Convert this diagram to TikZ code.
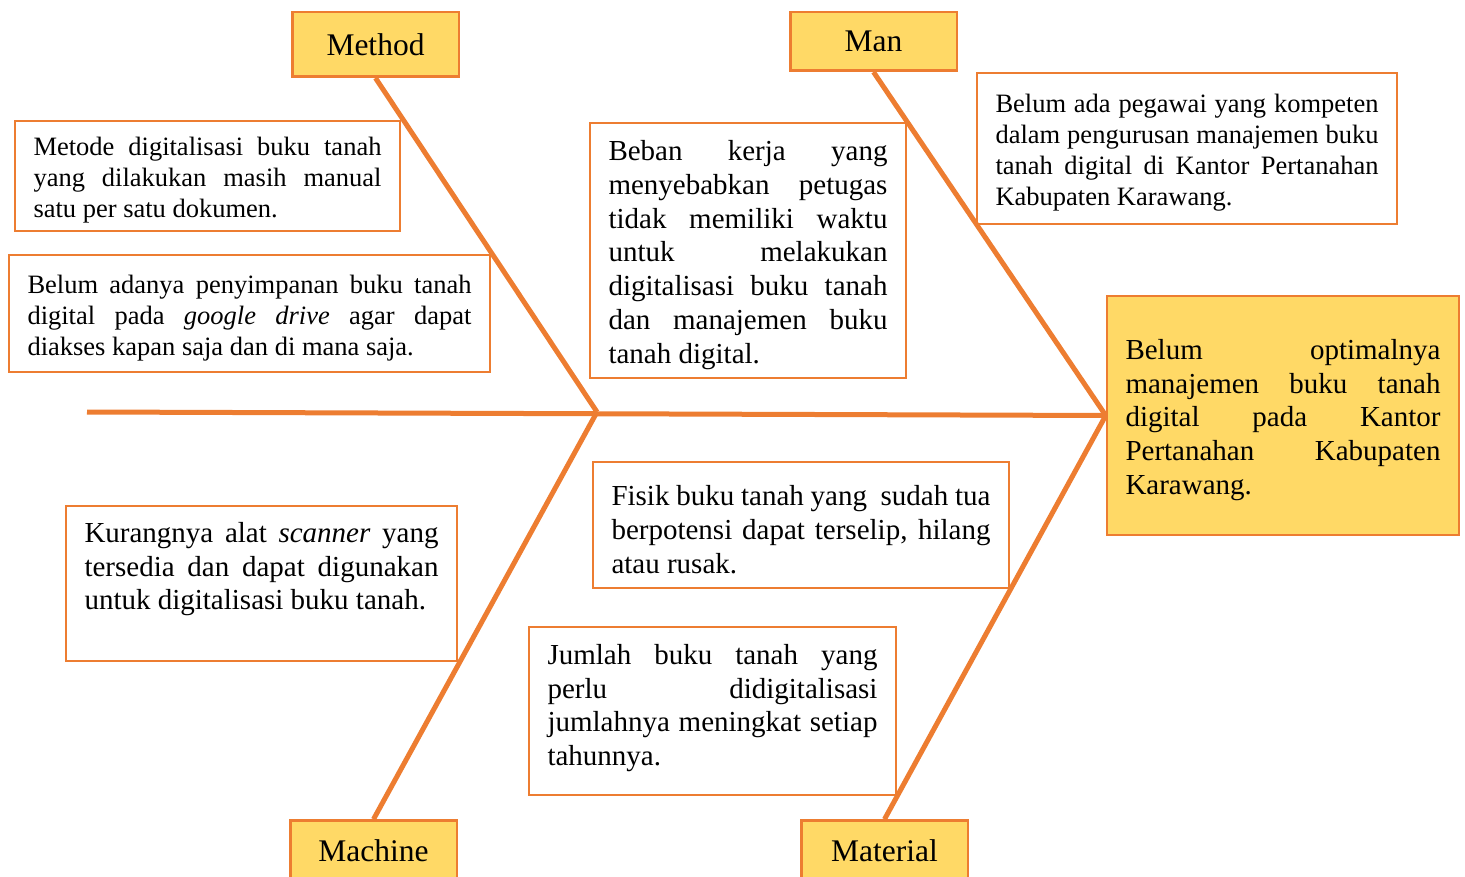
\documentclass[tikz,border=0pt]{standalone}
\usepackage{fontspec}
\setmainfont{Liberation Serif}
\usepackage{xcolor}
\usetikzlibrary{positioning}
\definecolor{boneorange}{HTML}{ED7D31}
\definecolor{labelgold}{HTML}{FFD966}
\newcommand{\notefont}{\fontsize{26.5}{31}\selectfont}
\newcommand{\bignotefont}{\fontsize{29}{33.7}\selectfont}
\newcommand{\dropnote}{\endgraf\vspace*{-9pt}}
\tolerance=10000
\hyphenpenalty=10000

\begin{document}
\begin{tikzpicture}[
  x=1pt, y=-1pt,
  causebox/.style={draw=boneorange, line width=2.5pt, fill=white, align=justify,
                   inner xsep=18.5pt, inner ysep=0pt,
                   execute at end node=\dropnote},
  category/.style={draw=boneorange, line width=2.5pt, fill=labelgold,
                   minimum width=166.5pt, font=\fontsize{31.5}{36}\selectfont},
  bone/.style={draw=boneorange, line width=5pt}
]
  \clip (0,0) rectangle (1465,877);

  \node[category, minimum height=64.5pt] (method) at (375.5,44.5) {Method};
  \node[category, minimum height=58.5pt] (man) at (873.5,41.5) {Man};
  \node[category, minimum height=61pt] (machine) at (373.5,851) {Machine};
  \node[category, minimum height=61pt] (material) at (884.5,851) {Material};

  \node[causebox, fill=labelgold, text width=315pt, minimum height=239pt,
        font=\bignotefont] (effect) at (1283,415.5)
    {Belum optimalnya\linebreak manajemen buku tanah\linebreak digital pada Kantor\linebreak
     Pertanahan Kabupaten\linebreak Karawang.};

  \node[causebox, text width=348pt, minimum height=110pt, font=\notefont]
    (manualMethod) at (207.5,176)
    {Metode digitalisasi buku tanah\linebreak yang dilakukan masih manual\linebreak
     satu per satu dokumen.};
  \node[causebox, text width=444pt, minimum height=117pt, font=\notefont]
    (noDrive) at (249.5,313.5)
    {Belum adanya penyimpanan buku tanah\linebreak digital pada \textit{google drive} agar dapat\linebreak
     diakses kapan saja dan di mana saja.};
  \node[causebox, text width=279pt, minimum height=255pt, font=\bignotefont]
    (workload) at (748,250.5)
    {Beban kerja yang\linebreak menyebabkan petugas\linebreak tidak memiliki waktu\linebreak
     untuk melakukan\linebreak digitalisasi buku tanah\linebreak dan manajemen buku\linebreak
     tanah digital.};
  \node[causebox, text width=383pt, minimum height=151pt, font=\notefont]
    (noExpert) at (1187,148.5)
    {Belum ada pegawai yang kompeten\linebreak dalam pengurusan manajemen buku\linebreak
     tanah digital di Kantor Pertanahan\linebreak Kabupaten Karawang.};
  \node[causebox, text width=354pt, minimum height=155pt, font=\bignotefont]
    (noScanner) at (261.5,583.5)
    {Kurangnya alat \textit{scanner} yang\linebreak tersedia dan dapat digunakan\linebreak
     untuk digitalisasi buku tanah.\\ \strut};
  \node[causebox, text width=379pt, minimum height=126pt, font=\bignotefont]
    (oldBooks) at (801,525)
    {Fisik buku tanah yang\ \ sudah tua\linebreak berpotensi dapat terselip, hilang\linebreak
     atau rusak.};
  \node[causebox, text width=330pt, minimum height=168pt, font=\bignotefont,
        execute at end node={\vspace*{15pt}}]
    (bookCount) at (712.5,711)
    {Jumlah buku tanah yang\linebreak perlu didigitalisasi\linebreak
     jumlahnya meningkat setiap\linebreak tahunnya.};

  \coordinate (tail) at (87,412);
  \coordinate (joint) at (597,412);

  \draw[bone] (tail) -- (effect.west);
  \draw[bone] (method.south) -- (joint);
  \draw[bone] (machine.north) -- (joint);
  \draw[bone] (man.south) -- (effect.west);
  \draw[bone] (material.north) -- (effect.west);
\end{tikzpicture}
\end{document}
